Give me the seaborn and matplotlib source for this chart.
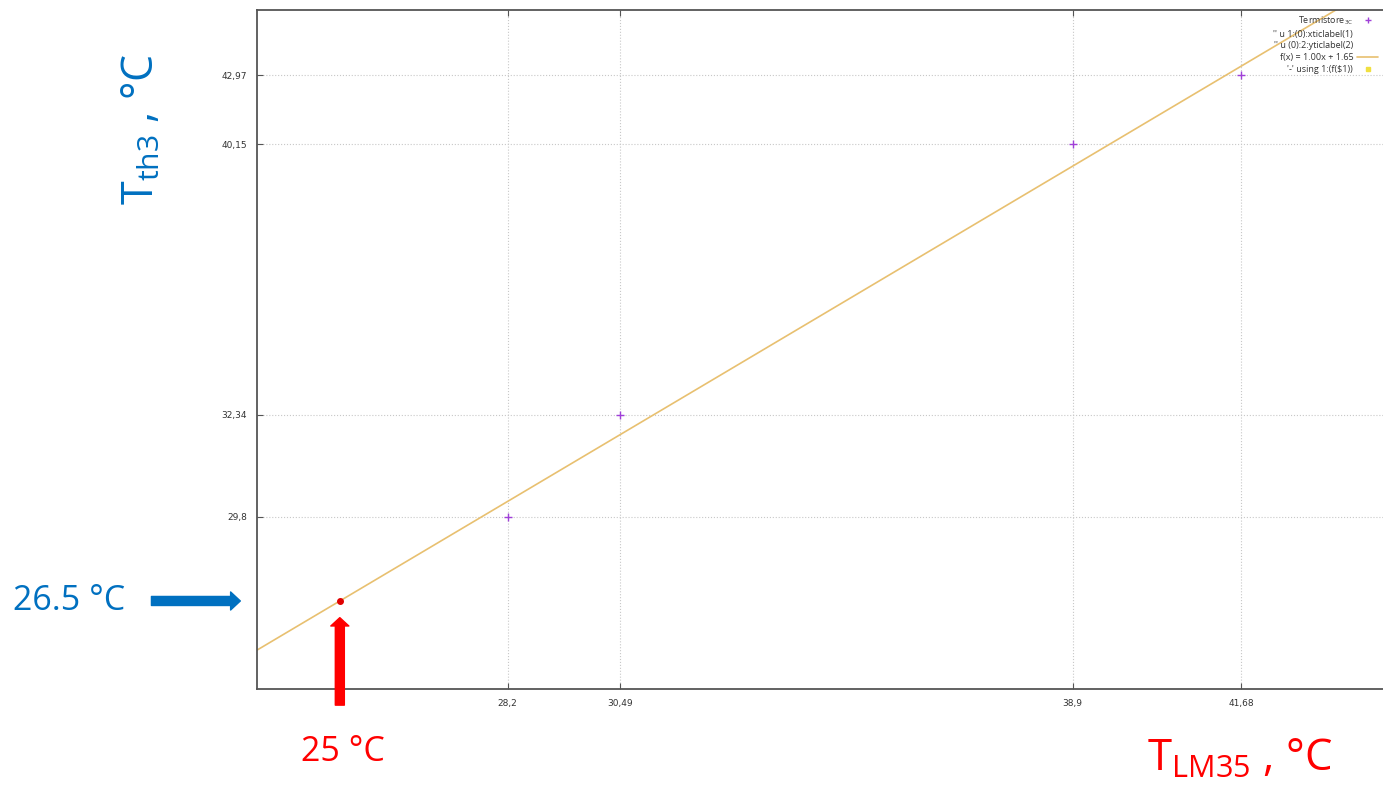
import matplotlib
matplotlib.use("Agg")
import matplotlib.pyplot as plt
import seaborn as sns
import numpy as np
import pandas as pd
from matplotlib.lines import Line2D

# thermistor vs LM35 readings (positions on the plot's own scale)
x_pos = [28.2, 30.35, 38.98, 42.2]
y_pos = [29.35, 32.63, 41.34, 43.56]
x_labels = ["28,2", "30,49", "38,9", "41,68"]
y_labels = ["29,8", "32,34", "40,15", "42,97"]

# fitted line f(x) = 1.00x + 1.65
fit_slope = 1.00
fit_intercept = 1.65
x_range = [23.42, 44.9]
y_range = [23.82, 45.65]

# reference point marked by the arrows
ref_x = 25.0
ref_y = fit_slope * ref_x + fit_intercept
ref_x_text = "25 °C"
ref_y_text = "26.5 °C"

purple = "#a040d8"
orange = "#e8c070"
blue = "#0070c0"
red = "#ff0000"

sns.set_style("white")
plt.rcParams['font.family'] = ['Open Sans', 'DejaVu Sans']
plt.rcParams['mathtext.fontset'] = 'custom'
plt.rcParams['mathtext.rm'] = 'Open Sans'

fig = plt.figure(figsize=(13.83, 7.90), dpi=100)
ax = fig.add_axes([257 / 1383, 101 / 790, 1 - 257 / 1383, 679 / 790])

points = pd.DataFrame({"x": x_pos, "y": y_pos})
fit = pd.DataFrame({"x": x_range})
fit["y"] = fit_slope * fit["x"] + fit_intercept

sns.lineplot(data=fit, x="x", y="y", color=orange, linewidth=1.2, ax=ax)
sns.scatterplot(data=points, x="x", y="y", marker="+", color=purple,
                s=30, linewidth=1.0, ax=ax, zorder=5)
ax.scatter([ref_x], [ref_y], color="#e00000", s=16, zorder=6)

ax.set_xlim(x_range)
ax.set_ylim(y_range)
ax.set_xticks(x_pos)
ax.set_xticklabels(x_labels)
ax.set_yticks(y_pos)
ax.set_yticklabels(y_labels)
ax.set_xlabel("")
ax.set_ylabel("")
ax.tick_params(direction="in", length=4, width=0.8, color="#555555",
               labelsize=6.5, labelcolor="#333333", pad=7,
               top=True, left=True, bottom=True)
for lab in ax.get_xticklabels() + ax.get_yticklabels():
    lab.set_family("DejaVu Sans")
ax.grid(True, linestyle=":", color="#c8c8c8", linewidth=0.8)

for side in ["left", "bottom", "top"]:
    ax.spines[side].set_color("#555555")
    ax.spines[side].set_linewidth(1.3)
ax.spines["right"].set_visible(False)

handles = [
    Line2D([], [], linestyle="none", marker="+", color=purple, markersize=5),
    Line2D([], [], linestyle="none"),
    Line2D([], [], linestyle="none"),
    Line2D([], [], color=orange, linewidth=1.2),
    Line2D([], [], linestyle="none", marker="s", color="#f0e040",
           markersize=3.5),
]
names = [
    r"Termistore$_{\mathregular{3C}}$",
    "'' u 1:(0):xticlabel(1)",
    "'' u (0):2:yticlabel(2)",
    "f(x) = 1.00x + 1.65",
    r"'-' using 1:(f(\$1))",
]
leg = ax.legend(handles, names, loc="upper right", frameon=False,
                markerfirst=False, fontsize=6.5, labelspacing=0.3,
                handlelength=2.4, handletextpad=0.4, borderaxespad=0.2,
                borderpad=0.3)
for t in leg.get_texts():
    t.set_color("#333333")

# arrows and values for the reference point
ax.annotate("", xy=(ref_x, ref_y), xycoords="data",
            xytext=(0, -75), textcoords="offset points",
            arrowprops=dict(arrowstyle="simple,head_width=13,head_length=6,tail_width=6.5",
                            mutation_scale=1, color=red, shrinkA=0, shrinkB=12))
ax.annotate("", xy=(0, ref_y), xycoords=("axes fraction", "data"),
            xytext=(-76, 0), textcoords="offset points",
            arrowprops=dict(arrowstyle="simple,head_width=13,head_length=7,tail_width=6.5",
                            mutation_scale=1, color=blue, shrinkA=0, shrinkB=12))
ax.annotate(ref_y_text, xy=(0, ref_y), xycoords=("axes fraction", "data"),
            xytext=(-95, 0), textcoords="offset points",
            ha="right", va="center", fontsize=24.5, color=blue,
            annotation_clip=False)
ax.annotate(ref_x_text, xy=(ref_x, 0), xycoords=("data", "axes fraction"),
            xytext=(2, -33), textcoords="offset points",
            ha="center", va="top", fontsize=24.5, color=red,
            annotation_clip=False)

fig.text(142 / 1383, 1 - 129 / 790, r"T$_{\mathregular{th3}}$ , °C",
         rotation=90, ha="center", va="center", fontsize=31, color=blue)
fig.text(1240 / 1383, 1 - 760 / 790, r"T$_{\mathregular{LM35}}$ , °C",
         ha="center", va="center", fontsize=31.5, color=red)

plt.savefig("out.png", dpi=100)
